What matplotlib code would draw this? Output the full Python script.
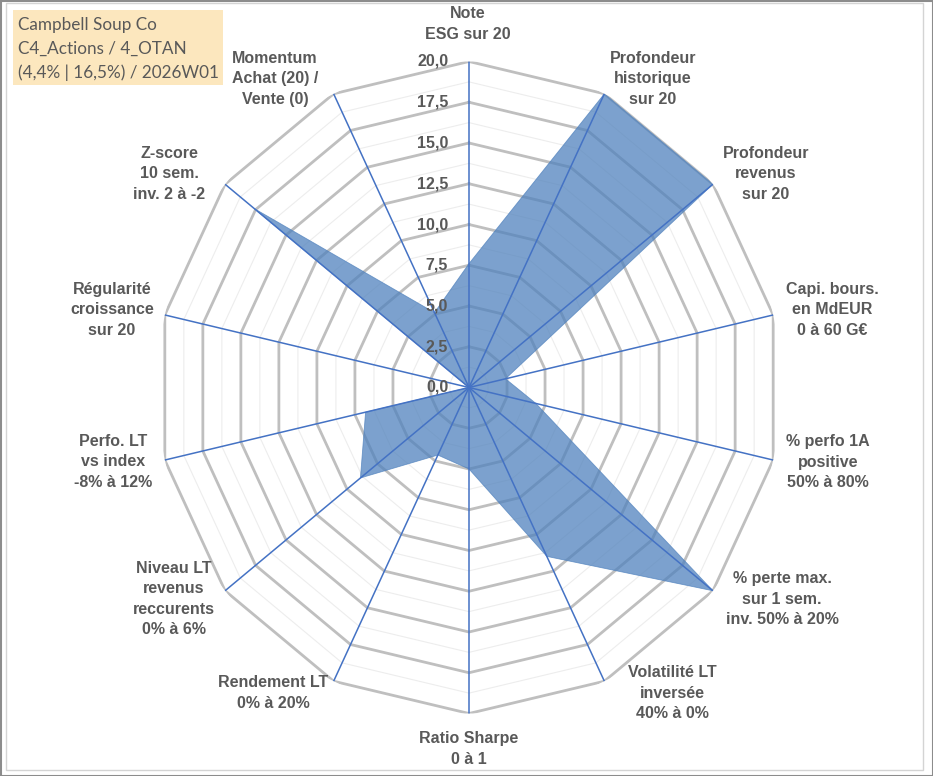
import numpy as np
import matplotlib.pyplot as plt
from matplotlib.patches import Rectangle

# chart data
categories = [
    "Note\nESG sur 20",
    "Profondeur\nhistorique\nsur 20",
    "Profondeur\nrevenus\nsur 20",
    "Capi. bours.\nen MdEUR\n0 à 60 G€",
    "% perfo 1A\npositive\n50% à 80%",
    "% perte max.\nsur 1 sem.\ninv. 50% à 20%",
    "Volatilité LT\ninversée\n40% à 0%",
    "Ratio Sharpe\n0 à 1",
    "Rendement LT\n0% à 20%",
    "Niveau LT\nrevenus\nreccurents\n0% à 6%",
    "Perfo. LT\nvs index\n-8% à 12%",
    "Régularité\ncroissance\nsur 20",
    "Z-score\n10 sem.\ninv. 2 à -2",
    "Momentum\nAchat (20) /\nVente (0)",
]
scores = [7.6, 20.0, 20.0, 2.4, 4.4, 20.0, 11.5, 5.0, 4.6, 8.9, 6.8, 0.0, 17.6, 5.1]
major_ticks = np.arange(0, 20.01, 2.5)
minor_ticks = np.arange(1.25, 20, 2.5)
title_lines = ["Campbell Soup Co", "C4_Actions / 4_OTAN", "(4,4% | 16,5%) / 2026W01"]

# label centres in pixels (layout only)
label_pos = [(468, 24), (653, 79), (766, 174), (832, 310), (828, 462),
             (782, 599), (672, 693), (469, 749), (273, 693), (174, 599),
             (113, 462), (112, 310), (169, 174), (275, 79)]

W, H = 933, 776
fig = plt.figure(figsize=(W / 100, H / 100), dpi=100)
fig.patch.set_facecolor("white")

# chart is slightly squeezed horizontally in the original
cx, cy, rx, ry = 469, 387.5, 312, 326
ax = fig.add_axes([(cx - rx) / W, (H - cy - ry) / H, 2 * rx / W, 2 * ry / H],
                  projection="polar")
ax.set_aspect("auto")
ax.set_theta_zero_location("N")
ax.set_theta_direction(-1)
ax.set_ylim(0, 20)
ax.grid(False)
ax.set_xticks([])
ax.set_yticks([])
ax.spines["polar"].set_visible(False)
ax.patch.set_alpha(0)

n = len(categories)
theta = np.arange(n) * 2 * np.pi / n
theta_c = np.append(theta, theta[0])

# polygon grid rings
for r in minor_ticks:
    ax.plot(theta_c, [r] * (n + 1), color="#EDEDED", lw=0.8, zorder=1)
for r in major_ticks[1:]:
    ax.plot(theta_c, [r] * (n + 1), color="#BFBFBF", lw=2.0, zorder=1,
            solid_joinstyle="miter")

# series
vals = np.append(scores, scores[0])
ax.fill(theta_c, vals, facecolor="#4F81BD", alpha=0.74,
        edgecolor="#4F81BD", lw=0.6, zorder=2)

# spokes
for t in theta:
    ax.plot([t, t], [0, 20], color="#4472C4", lw=1.1, zorder=3)

# radial tick labels
for r in major_ticks:
    ax.annotate(f"{r:.1f}".replace(".", ","), xy=(0, r), xytext=(-15, 0),
                textcoords="offset points", ha="right", va="center",
                fontsize=11.5, fontweight="bold", color="#595959",
                family="Liberation Sans", zorder=4)

# category labels
for lab, (x, y) in zip(categories, label_pos):
    fig.text(x / W, 1 - y / H, lab, ha="center", va="center",
             fontsize=11.5, fontweight="bold", color="#595959",
             family="Liberation Sans", linespacing=1.42)

# title box
fig.add_artist(Rectangle((13 / W, 1 - 85 / H), 210 / W, 75 / H,
                         transform=fig.transFigure, facecolor="#FCE7BE",
                         edgecolor="none", zorder=0))
for i, line in enumerate(title_lines):
    fig.text(18 / W, 1 - (25 + 24 * i) / H, line, ha="left", va="center",
             fontsize=12.3, color="#595959", family="Lato")

# chart frame
fig.add_artist(Rectangle((6 / W, 1 - 770 / H), 917 / W, 767 / H,
                         transform=fig.transFigure, facecolor="none",
                         edgecolor="#D4D4D4", lw=1))
fig.add_artist(Rectangle((0.5 / W, 0.5 / H), (W - 1) / W, (H - 1) / H,
                         transform=fig.transFigure, facecolor="none",
                         edgecolor="#8C8C8C", lw=1.5))

plt.savefig("out.png", dpi=100)
